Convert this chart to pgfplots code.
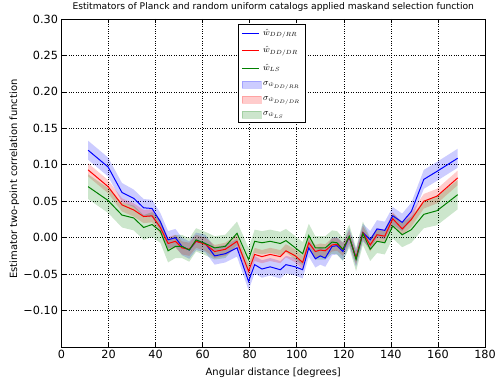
\documentclass[border=0pt]{standalone}
\usepackage{fontspec}
\setmainfont{DejaVu Sans}
\usepackage{pgfplots}
\pgfplotsset{compat=1.18}
\usepackage{pgfplotstable}
\usepgfplotslibrary{fillbetween}

\pgfplotstableread{
x      b       r       g       sb     sr     sg
11.3   0.120   0.093   0.070   0.013  0.009  0.017
19.8   0.097   0.070   0.051   0.013  0.009  0.017
25.7   0.062   0.045   0.031   0.013  0.009  0.017
30.7   0.054   0.038   0.027   0.012  0.009  0.017
34.9   0.041   0.029   0.014   0.012  0.009  0.017
38.5   0.040   0.030   0.018   0.012  0.009  0.017
42.0   0.022   0.014   0.009   0.012  0.009  0.016
45.3   -0.003  -0.008  -0.018  0.012  0.009  0.016
48.4   0.000   -0.005  -0.012  0.012  0.009  0.016
51.2   -0.012  -0.014  -0.012  0.012  0.009  0.016
54.3   -0.017  -0.016  -0.017  0.012  0.009  0.016
57.2   -0.005  -0.005  -0.003  0.012  0.009  0.016
61.1   -0.008  -0.009  -0.008  0.012  0.009  0.016
65.1   -0.025  -0.019  -0.014  0.012  0.009  0.016
69.6   -0.022  -0.016  -0.012  0.012  0.009  0.016
74.6   -0.014  -0.005  0.006   0.012  0.009  0.016
79.5   -0.060  -0.046  -0.030  0.012  0.009  0.016
82.1   -0.037  -0.023  -0.005  0.012  0.009  0.016
85.2   -0.043  -0.026  -0.007  0.012  0.009  0.016
88.7   -0.040  -0.023  -0.005  0.012  0.009  0.016
93.0   -0.044  -0.026  -0.008  0.012  0.009  0.016
95.4   -0.037  -0.018  -0.004  0.012  0.009  0.016
99.4   -0.040  -0.025  -0.014  0.012  0.009  0.016
102.5  -0.044  -0.034  -0.022  0.012  0.009  0.016
105.1  -0.014  -0.007  0.003   0.012  0.009  0.016
107.9  -0.029  -0.019  -0.014  0.012  0.009  0.016
110.0  -0.025  -0.017  -0.014  0.012  0.009  0.016
112.1  -0.028  -0.018  -0.014  0.012  0.009  0.016
115.0  -0.012  -0.010  -0.006  0.012  0.009  0.016
117.1  -0.011  -0.009  -0.007  0.012  0.009  0.016
119.6  -0.019  -0.016  -0.016  0.012  0.009  0.016
122.3  0.001   0.001   0.002   0.012  0.009  0.016
125.2  -0.028  -0.028  -0.030  0.012  0.009  0.016
128.1  0.007   0.007   0.006   0.012  0.009  0.016
131.2  -0.003  -0.010  -0.016  0.012  0.009  0.016
134.1  0.012   0.004   -0.005  0.012  0.009  0.016
137.4  0.010   0.002   -0.007  0.012  0.009  0.016
140.8  0.030   0.026   0.016   0.012  0.009  0.017
144.8  0.021   0.012   0.004   0.012  0.009  0.017
148.7  0.036   0.025   0.011   0.012  0.010  0.018
154.0  0.080   0.050   0.032   0.013  0.010  0.019
159.6  0.091   0.057   0.037   0.013  0.010  0.020
168.4  0.109   0.082   0.059   0.013  0.010  0.020
}\data

\begin{document}
\begin{tikzpicture}
\begin{axis}[
  at={(0,0)}, anchor=south west,
  scale only axis, width=423.5bp, height=328bp,
  xmin=0, xmax=180, ymin=-0.15, ymax=0.30,
  xtick={0,20,40,60,80,100,120,140,160,180},
  xticklabels={0,20,40,60,80,100,120,140,160,180},
  ytick={-0.10,-0.05,0,0.05,0.10,0.15,0.20,0.25,0.30},
  yticklabels={−0.10,−0.05,0.00,0.05,0.10,0.15,0.20,0.25,0.30},
  grid=major,
  major grid style={black, dotted, line width=0.6pt},
  tick align=inside, major tick length=4bp,
  tick style={black, line width=0.6pt},
  axis line style={line width=0.8pt},
  ticklabel style={font=\fontsize{11.3}{13}\selectfont},
  label style={font=\fontsize{11.3}{13}\selectfont},
  title={Estitmators of Planck and random uniform catalogs applied maskand selection function},
  title style={font=\fontsize{9.2}{10}\selectfont, at={(0.5,1.0107)}, anchor=base},
  xlabel={Angular distance [degrees]},
  ylabel={Estimator two-point correlation function},
  every axis x label/.style={at={(axis description cs:0.5,-0.0854)}, anchor=base},
  every axis y label/.style={at={(axis description cs:-0.105,0.512)}, rotate=90, anchor=base},
  legend style={at={(0.4168,0.985)}, anchor=north west, draw=black, fill=white,
    font=\fontsize{9}{11}\selectfont, row sep=5.8bp, inner sep=3bp, line width=0.6pt},
  legend cell align=left,
]
% bands
\addplot[name path=bu, draw=none, forget plot] table[x=x, y expr=\thisrow{b}+\thisrow{sb}] {\data};
\addplot[name path=bl, draw=none, forget plot] table[x=x, y expr=\thisrow{b}-\thisrow{sb}] {\data};
\addplot[fill=blue, fill opacity=0.2, draw=none, forget plot] fill between[of=bu and bl];
\addplot[name path=ru, draw=none, forget plot] table[x=x, y expr=\thisrow{r}+\thisrow{sr}] {\data};
\addplot[name path=rl, draw=none, forget plot] table[x=x, y expr=\thisrow{r}-\thisrow{sr}] {\data};
\addplot[fill=red, fill opacity=0.2, draw=none, forget plot] fill between[of=ru and rl];
\addplot[name path=gu, draw=none, forget plot] table[x=x, y expr=\thisrow{g}+\thisrow{sg}] {\data};
\addplot[name path=gl, draw=none, forget plot] table[x=x, y expr=\thisrow{g}-\thisrow{sg}] {\data};
\addplot[fill=green!50!black, fill opacity=0.2, draw=none, forget plot] fill between[of=gu and gl];
% lines
\addplot[blue, line width=1pt] table[x=x, y=b] {\data};
\addlegendentry{$\hat{w}_{DD/RR}$}
\addplot[red, line width=1pt] table[x=x, y=r] {\data};
\addlegendentry{$\hat{w}_{DD/DR}$}
\addplot[green!50!black, line width=1pt] table[x=x, y=g] {\data};
\addlegendentry{$\hat{w}_{LS}$}
\addlegendimage{legend image code/.code={\fill[blue, opacity=0.2] (0bp,-3.5bp) rectangle (19bp,3.5bp);}}
\addlegendentry{$\sigma_{\hat{w}_{DD/RR}}$}
\addlegendimage{legend image code/.code={\fill[red, opacity=0.2] (0bp,-3.5bp) rectangle (19bp,3.5bp);}}
\addlegendentry{$\sigma_{\hat{w}_{DD/DR}}$}
\addlegendimage{legend image code/.code={\fill[green!50!black, opacity=0.2] (0bp,-3.5bp) rectangle (19bp,3.5bp);}}
\addlegendentry{$\sigma_{\hat{w}_{LS}}$}
\end{axis}
\pgfresetboundingbox
\path[use as bounding box] (-61.5bp,-31bp) rectangle (434.5bp,347bp);
\end{tikzpicture}
\end{document}
